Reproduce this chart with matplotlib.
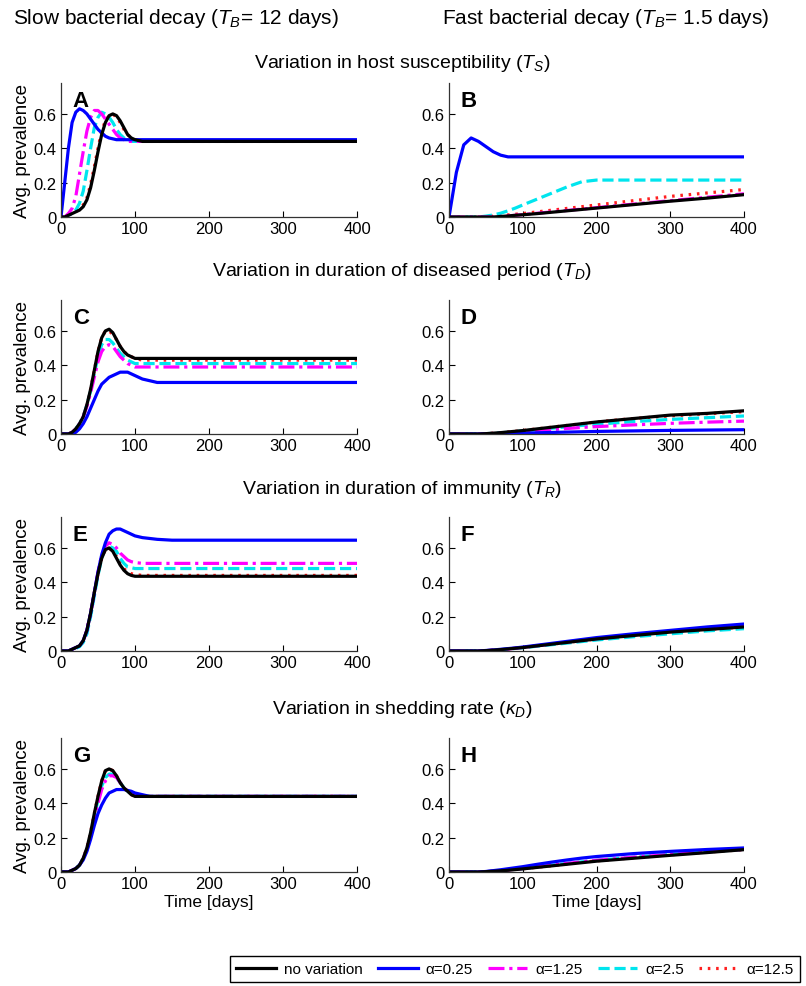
import matplotlib
matplotlib.use("Agg")
import matplotlib.pyplot as plt

plt.rcParams['font.family'] = ['Liberation Sans', 'DejaVu Sans']
plt.rcParams['mathtext.fontset'] = 'custom'
plt.rcParams['mathtext.it'] = 'Liberation Sans:italic'
plt.rcParams['mathtext.rm'] = 'Liberation Sans'

# time grids (days)
t_slow = [0, 5, 10, 15, 20, 25, 30, 35, 40, 45, 50, 55, 60, 65, 70, 75, 80, 85, 90,
          95, 100, 110, 120, 130, 150, 200, 250, 300, 350, 400]
t_fast = [0, 10, 20, 30, 40, 50, 60, 70, 80, 90, 100, 120, 140, 160, 180, 200, 250,
          300, 350, 400]

# panel A: slow decay, variation in host susceptibility
A_none = [0, 0, 0.01, 0.02, 0.03, 0.04, 0.06, 0.10, 0.17, 0.27, 0.38, 0.48, 0.55, 0.59, 0.60,
          0.59, 0.56, 0.52, 0.48, 0.46, 0.45, 0.44, 0.44, 0.44, 0.44, 0.44, 0.44, 0.44, 0.44, 0.44]
A_a025 = [0, 0.20, 0.40, 0.55, 0.61, 0.63, 0.62, 0.60, 0.57, 0.54, 0.51, 0.49, 0.47, 0.46, 0.455,
          0.45, 0.45, 0.45, 0.45, 0.45, 0.45, 0.45, 0.45, 0.45, 0.45, 0.45, 0.45, 0.45, 0.45, 0.45]
A_a125 = [0, 0, 0.02, 0.05, 0.12, 0.25, 0.38, 0.50, 0.58, 0.62, 0.62, 0.60, 0.57, 0.54, 0.51,
          0.48, 0.46, 0.45, 0.44, 0.44, 0.44, 0.44, 0.44, 0.44, 0.44, 0.44, 0.44, 0.44, 0.44, 0.44]
A_a25 = [0, 0, 0.01, 0.02, 0.04, 0.08, 0.15, 0.27, 0.40, 0.52, 0.58, 0.61, 0.60, 0.58, 0.55,
         0.51, 0.48, 0.46, 0.45, 0.44, 0.44, 0.44, 0.44, 0.44, 0.44, 0.44, 0.44, 0.44, 0.44, 0.44]
A_a125b = [0, 0, 0.01, 0.02, 0.03, 0.05, 0.07, 0.11, 0.19, 0.29, 0.40, 0.50, 0.56, 0.59, 0.60,
           0.58, 0.55, 0.51, 0.48, 0.46, 0.45, 0.44, 0.44, 0.44, 0.44, 0.44, 0.44, 0.44, 0.44, 0.44]

# panel B: fast decay, variation in host susceptibility
B_none = [0, 0, 0, 0, 0, 0, 0, 0.003, 0.006, 0.01, 0.013, 0.02, 0.028, 0.036, 0.044, 0.052,
          0.072, 0.092, 0.11, 0.13]
B_a025 = [0, 0.26, 0.42, 0.46, 0.44, 0.41, 0.38, 0.36, 0.35, 0.35, 0.35, 0.35, 0.35, 0.35,
          0.35, 0.35, 0.35, 0.35, 0.35, 0.35]
B_a125 = [0, 0, 0, 0, 0, 0, 0, 0.003, 0.006, 0.01, 0.014, 0.022, 0.03, 0.038, 0.046, 0.054,
          0.075, 0.095, 0.115, 0.135]
B_a25 = [0, 0, 0, 0, 0, 0.005, 0.012, 0.022, 0.036, 0.052, 0.07, 0.105, 0.14, 0.175, 0.205,
         0.215, 0.215, 0.215, 0.215, 0.215]
B_a125b = [0, 0, 0, 0, 0, 0.002, 0.005, 0.008, 0.012, 0.016, 0.02, 0.03, 0.04, 0.05, 0.06, 0.07,
           0.095, 0.12, 0.14, 0.16]

# panel C: slow decay, variation in duration of diseased period
C_none = [0, 0, 0, 0.01, 0.03, 0.06, 0.10, 0.17, 0.26, 0.37, 0.48, 0.56, 0.60, 0.61, 0.59,
          0.55, 0.51, 0.48, 0.46, 0.45, 0.44, 0.44, 0.44, 0.44, 0.44, 0.44, 0.44, 0.44, 0.44, 0.44]
C_a025 = [0, 0, 0, 0, 0.01, 0.03, 0.06, 0.10, 0.15, 0.20, 0.25, 0.29, 0.31, 0.33, 0.34,
          0.35, 0.36, 0.36, 0.36, 0.35, 0.34, 0.32, 0.31, 0.30, 0.30, 0.30, 0.30, 0.30, 0.30, 0.30]
C_a125 = [0, 0, 0, 0.01, 0.03, 0.06, 0.10, 0.16, 0.24, 0.33, 0.42, 0.48, 0.51, 0.52, 0.51,
          0.48, 0.45, 0.43, 0.41, 0.40, 0.39, 0.39, 0.39, 0.39, 0.39, 0.39, 0.39, 0.39, 0.39, 0.39]
C_a25 = [0, 0, 0, 0.01, 0.03, 0.06, 0.10, 0.17, 0.25, 0.35, 0.45, 0.52, 0.55, 0.55, 0.53,
         0.50, 0.47, 0.45, 0.43, 0.42, 0.41, 0.41, 0.41, 0.41, 0.41, 0.41, 0.41, 0.41, 0.41, 0.41]
C_a125b = [0, 0, 0, 0.01, 0.03, 0.06, 0.10, 0.17, 0.26, 0.37, 0.48, 0.56, 0.60, 0.60, 0.58,
           0.55, 0.51, 0.48, 0.46, 0.45, 0.44, 0.43, 0.43, 0.43, 0.43, 0.43, 0.43, 0.43, 0.43, 0.43]

# panel D: fast decay, variation in duration of diseased period
D_none = [0, 0, 0, 0, 0, 0.002, 0.005, 0.008, 0.012, 0.016, 0.02, 0.03, 0.04, 0.05, 0.06,
          0.07, 0.09, 0.11, 0.12, 0.135]
D_a025 = [0, 0, 0, 0, 0, 0, 0.001, 0.002, 0.003, 0.004, 0.005, 0.007, 0.009, 0.011, 0.013,
          0.015, 0.018, 0.021, 0.023, 0.025]
D_a125 = [0, 0, 0, 0, 0, 0.001, 0.003, 0.005, 0.008, 0.011, 0.014, 0.02, 0.026, 0.032, 0.038,
          0.043, 0.053, 0.062, 0.069, 0.075]
D_a25 = [0, 0, 0, 0, 0, 0.002, 0.004, 0.007, 0.01, 0.014, 0.018, 0.026, 0.034, 0.042, 0.05,
         0.057, 0.072, 0.085, 0.095, 0.105]
D_a125b = [0, 0, 0, 0, 0, 0.002, 0.005, 0.008, 0.012, 0.016, 0.02, 0.03, 0.04, 0.05, 0.06,
           0.07, 0.09, 0.105, 0.118, 0.13]

# panel E: slow decay, variation in duration of immunity
E_none = [0, 0, 0, 0.01, 0.02, 0.03, 0.06, 0.12, 0.22, 0.34, 0.45, 0.54, 0.59, 0.60, 0.58,
          0.54, 0.50, 0.47, 0.45, 0.44, 0.435, 0.435, 0.435, 0.435, 0.435, 0.435, 0.435, 0.435,
          0.435, 0.435]
E_a025 = [0, 0, 0, 0.01, 0.02, 0.03, 0.06, 0.12, 0.22, 0.34, 0.46, 0.56, 0.63, 0.68, 0.70,
          0.71, 0.71, 0.70, 0.69, 0.68, 0.67, 0.66, 0.655, 0.65, 0.645, 0.645, 0.645, 0.645,
          0.645, 0.645]
E_a125 = [0, 0, 0, 0.01, 0.02, 0.03, 0.06, 0.12, 0.22, 0.34, 0.46, 0.56, 0.61, 0.63, 0.62,
          0.60, 0.57, 0.55, 0.53, 0.52, 0.515, 0.51, 0.51, 0.51, 0.51, 0.51, 0.51, 0.51, 0.51,
          0.51]
E_a25 = [0, 0, 0, 0.01, 0.015, 0.025, 0.05, 0.10, 0.20, 0.32, 0.44, 0.54, 0.60, 0.61, 0.60,
         0.58, 0.54, 0.51, 0.49, 0.485, 0.48, 0.48, 0.48, 0.48, 0.48, 0.48, 0.48, 0.48, 0.48,
         0.48]
E_a125b = [0, 0, 0, 0.01, 0.02, 0.03, 0.06, 0.12, 0.22, 0.34, 0.45, 0.54, 0.59, 0.60, 0.58,
           0.55, 0.51, 0.48, 0.46, 0.45, 0.445, 0.44, 0.44, 0.44, 0.44, 0.44, 0.44, 0.44, 0.44,
           0.44]

# panel F: fast decay, variation in duration of immunity
F_none = [0, 0, 0, 0, 0, 0.002, 0.005, 0.008, 0.012, 0.016, 0.02, 0.03, 0.04, 0.05, 0.06,
          0.07, 0.09, 0.11, 0.125, 0.14]
F_a025 = [0, 0, 0, 0, 0, 0.003, 0.006, 0.01, 0.014, 0.018, 0.023, 0.034, 0.045, 0.056, 0.067,
          0.078, 0.10, 0.12, 0.14, 0.157]
F_a125 = [0, 0, 0, 0, 0, 0.002, 0.005, 0.008, 0.012, 0.016, 0.021, 0.031, 0.041, 0.052, 0.062,
          0.072, 0.093, 0.113, 0.13, 0.145]
F_a25 = [0, 0, 0, 0, 0, 0.002, 0.004, 0.007, 0.011, 0.015, 0.019, 0.028, 0.037, 0.046, 0.055,
         0.064, 0.083, 0.10, 0.117, 0.13]
F_a125b = [0, 0, 0, 0, 0, 0.002, 0.005, 0.008, 0.012, 0.016, 0.02, 0.03, 0.04, 0.05, 0.06,
           0.07, 0.09, 0.11, 0.125, 0.14]

# panel G: slow decay, variation in shedding rate
G_none = [0, 0, 0, 0.01, 0.02, 0.04, 0.08, 0.14, 0.23, 0.34, 0.44, 0.53, 0.59, 0.60, 0.59,
          0.56, 0.52, 0.49, 0.47, 0.45, 0.44, 0.44, 0.44, 0.44, 0.44, 0.44, 0.44, 0.44, 0.44, 0.44]
G_a025 = [0, 0, 0, 0.01, 0.02, 0.04, 0.07, 0.12, 0.19, 0.27, 0.34, 0.39, 0.43, 0.46, 0.47,
          0.48, 0.48, 0.48, 0.475, 0.47, 0.46, 0.45, 0.44, 0.44, 0.44, 0.44, 0.44, 0.44, 0.44, 0.44]
G_a125 = [0, 0, 0, 0.01, 0.02, 0.04, 0.08, 0.13, 0.21, 0.31, 0.40, 0.48, 0.53, 0.56, 0.56,
          0.55, 0.52, 0.49, 0.47, 0.455, 0.445, 0.44, 0.44, 0.44, 0.44, 0.44, 0.44, 0.44, 0.44, 0.44]
G_a25 = [0, 0, 0, 0.01, 0.02, 0.04, 0.08, 0.13, 0.22, 0.32, 0.42, 0.50, 0.55, 0.57, 0.57,
         0.55, 0.52, 0.49, 0.47, 0.455, 0.445, 0.44, 0.44, 0.44, 0.44, 0.44, 0.44, 0.44, 0.44, 0.44]
G_a125b = [0, 0, 0, 0.01, 0.02, 0.04, 0.08, 0.14, 0.23, 0.34, 0.44, 0.53, 0.59, 0.60, 0.59,
           0.56, 0.52, 0.49, 0.47, 0.45, 0.44, 0.44, 0.44, 0.44, 0.44, 0.44, 0.44, 0.44, 0.44, 0.44]

# panel H: fast decay, variation in shedding rate
H_none = [0, 0, 0, 0, 0, 0.002, 0.004, 0.007, 0.01, 0.014, 0.018, 0.027, 0.036, 0.045, 0.054,
          0.063, 0.08, 0.097, 0.113, 0.13]
H_a025 = [0, 0, 0, 0, 0, 0.003, 0.008, 0.013, 0.019, 0.025, 0.031, 0.045, 0.058, 0.07, 0.081,
          0.09, 0.107, 0.12, 0.131, 0.14]
H_a125 = [0, 0, 0, 0, 0, 0.002, 0.005, 0.008, 0.012, 0.016, 0.02, 0.03, 0.04, 0.05, 0.059,
          0.068, 0.086, 0.102, 0.117, 0.132]
H_a25 = [0, 0, 0, 0, 0, 0.002, 0.005, 0.008, 0.012, 0.016, 0.02, 0.03, 0.04, 0.05, 0.059,
         0.068, 0.086, 0.102, 0.117, 0.132]
H_a125b = [0, 0, 0, 0, 0, 0.002, 0.004, 0.007, 0.011, 0.015, 0.019, 0.028, 0.037, 0.047, 0.056,
           0.065, 0.083, 0.1, 0.116, 0.13]

labels = ['no variation', 'α=0.25', 'α=1.25', 'α=2.5', 'α=12.5']
colors = ['black', '#0000ff', '#ff00ff', '#00e5ee', '#ff2020']
styles = ['-', '-', (0, (5, 1.5, 1, 1.5)), (0, (3.5, 1.5)), (0, (0.8, 1.8))]

panels = [
    ('A', t_slow, [A_none, A_a025, A_a125, A_a25, A_a125b]),
    ('B', t_fast, [B_none, B_a025, B_a125, B_a25, B_a125b]),
    ('C', t_slow, [C_none, C_a025, C_a125, C_a25, C_a125b]),
    ('D', t_fast, [D_none, D_a025, D_a125, D_a25, D_a125b]),
    ('E', t_slow, [E_none, E_a025, E_a125, E_a25, E_a125b]),
    ('F', t_fast, [F_none, F_a025, F_a125, F_a25, F_a125b]),
    ('G', t_slow, [G_none, G_a025, G_a125, G_a25, G_a125b]),
    ('H', t_fast, [H_none, H_a025, H_a125, H_a25, H_a125b]),
]

row_titles = ['Variation in host susceptibility ($T_S$)',
              'Variation in duration of diseased period ($T_D$)',
              'Variation in duration of immunity ($T_R$)',
              'Variation in shedding rate ($\\kappa_D$)']

W, H = 806, 987
fig = plt.figure(figsize=(W / 100, H / 100), dpi=100)

lefts = [61, 449]
widths = [296, 295]
bottoms = [218, 435, 652, 873]  # pixel y of the zero line
ax_h = 134

handles = None
for i, (letter, t, series) in enumerate(panels):
    row, col = divmod(i, 2)
    ax = fig.add_axes([lefts[col] / W, 1 - bottoms[row] / H, widths[col] / W, ax_h / H])
    lines = []
    # draw in reverse so black sits at the bottom like the original
    for k in [4, 3, 2, 1, 0]:
        ln, = ax.plot(t, series[k], color=colors[k], linestyle=styles[k], lw=2.3,
                      label=labels[k])
        lines.append(ln)
    handles = lines[::-1]
    ax.set_xlim(0, 400)
    ax.set_ylim(0, 0.78)
    ax.set_xticks([0, 100, 200, 300, 400])
    ax.set_yticks([0, 0.2, 0.4, 0.6])
    ax.set_yticklabels(['0', '0.2', '0.4', '0.6'])
    ax.tick_params(direction='in', length=4, labelsize=12, pad=3)
    for s in ['top', 'right']:
        ax.spines[s].set_visible(False)
    for s in ['left', 'bottom']:
        ax.spines[s].set_color('#333333')
        ax.spines[s].set_linewidth(0.9)
    ax.text(0.04, 0.95, letter, transform=ax.transAxes, fontsize=16, fontweight='bold',
            va='top', ha='left')
    if col == 0:
        ax.set_ylabel('Avg. prevalence', fontsize=13.5, labelpad=2)
    if row == 3:
        ax.set_xlabel('Time [days]', fontsize=12.5, labelpad=2)

fig.text(176 / W, 1 - 18 / H, 'Slow bacterial decay ($T_B$= 12 days)', ha='center',
         va='center', fontsize=15)
fig.text(606 / W, 1 - 18 / H, 'Fast bacterial decay ($T_B$= 1.5 days)', ha='center',
         va='center', fontsize=15)
for y, title in zip([63, 272, 490, 710], row_titles):
    fig.text(402 / W, 1 - y / H, title, ha='center', va='center', fontsize=14)

fig.legend(handles=handles, labels=labels, loc='center', ncol=5,
           bbox_to_anchor=(515 / W, 1 - 970 / H), fontsize=11, frameon=True,
           fancybox=False, edgecolor='black', framealpha=1, handlelength=2.6,
           columnspacing=1.0, handletextpad=0.5, borderpad=0.4, borderaxespad=0)

fig.savefig('out.png', dpi=100)
